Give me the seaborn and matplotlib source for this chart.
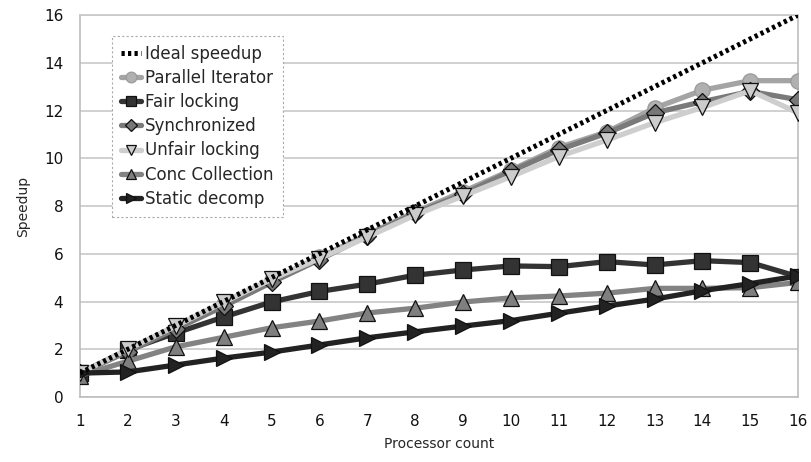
import numpy as np
import pandas as pd
import matplotlib
matplotlib.use("Agg")
import matplotlib.pyplot as plt
import seaborn as sns

procs = list(range(1, 17))
ideal = list(range(1, 17))
parallel_iter = [1.0, 1.95, 2.9, 3.9, 4.9, 5.85, 6.8, 7.75, 8.6, 9.5, 10.45, 11.1, 12.1, 12.85, 13.25, 13.25]
fair_locking = [1.0, 1.97, 2.68, 3.35, 3.98, 4.42, 4.73, 5.1, 5.32, 5.49, 5.46, 5.67, 5.53, 5.71, 5.63, 5.04]
synchronized = [1.0, 1.9, 2.85, 3.8, 4.8, 5.75, 6.75, 7.7, 8.5, 9.45, 10.35, 11.05, 11.9, 12.37, 12.8, 12.45]
unfair_locking = [1.0, 2.0, 2.97, 3.97, 4.93, 5.8, 6.7, 7.62, 8.42, 9.23, 10.07, 10.76, 11.49, 12.13, 12.83, 11.9]
conc_collection = [0.9, 1.5, 2.1, 2.5, 2.9, 3.18, 3.52, 3.72, 3.98, 4.15, 4.23, 4.35, 4.55, 4.55, 4.58, 4.8]
static_decomp = [1.0, 1.05, 1.34, 1.63, 1.88, 2.18, 2.48, 2.73, 2.97, 3.2, 3.51, 3.81, 4.1, 4.45, 4.75, 5.07]

series = [
    # name, values, line color, marker, marker face, marker edge, zorder
    ("Parallel Iterator", parallel_iter, "#a4a4a4", "o", "#b0b0b0", "#9a9a9a", 3),
    ("Fair locking", fair_locking, "#333333", "s", "#333333", "#111111", 3),
    ("Synchronized", synchronized, "#7a7a7a", "D", "#777777", "#111111", 4),
    ("Unfair locking", unfair_locking, "#cecece", "v", "#cccccc", "#111111", 5),
    ("Conc Collection", conc_collection, "#838383", "^", "#7f7f7f", "#111111", 4),
    ("Static decomp", static_decomp, "#222222", ">", "#222222", "#111111", 5),
]

sns.set_style("white")
plt.rcParams["font.family"] = ["DejaVu Sans"]

fig, ax = plt.subplots(figsize=(8.12, 4.62), dpi=100)
fig.subplots_adjust(left=0.0985, right=0.983, top=0.9675, bottom=0.1407)

sns.lineplot(x=procs, y=ideal, ax=ax, color="black", linewidth=3.6,
             linestyle=(0, (0.65, 0.65)), label="Ideal speedup", zorder=6)

for name, vals, lc, mk, mf, me, z in series:
    ms = 11 if mk != "D" else 9
    sns.lineplot(x=procs, y=vals, ax=ax, color=lc, linewidth=3.8, marker=mk,
                 markersize=ms, markerfacecolor=mf, markeredgecolor=me,
                 markeredgewidth=0.9, label=name, zorder=z)

ax.set_xlim(1, 16)
ax.set_ylim(0, 16)
ax.set_xticks(procs)
ax.set_yticks(range(0, 17, 2))
ax.yaxis.grid(True, color="#c8c8c8", linewidth=1.2)
ax.set_axisbelow(True)
for s in ax.spines.values():
    s.set_color("#bdbdbd")
    s.set_linewidth(1.2)
ax.spines["top"].set_color("#c8c8c8")
ax.tick_params(axis="both", direction="out", length=6, width=1.2, color="#c8c8c8",
               labelsize=11, labelcolor="#111111", pad=6)
ax.set_xlabel("Processor count", fontsize=10, labelpad=6)
ax.set_ylabel("Speedup", fontsize=10, labelpad=10)

leg = ax.legend(loc="upper left", bbox_to_anchor=(0.033, 0.968), fontsize=12,
                handlelength=1.2, handletextpad=0.25, labelspacing=0.37,
                borderpad=0.55, markerscale=0.7, fancybox=False, framealpha=1)
leg.get_frame().set_edgecolor("#aaaaaa")
leg.get_frame().set_linestyle((0, (2, 2)))
leg.get_frame().set_linewidth(0.8)

fig.savefig("out.png", dpi=100)
